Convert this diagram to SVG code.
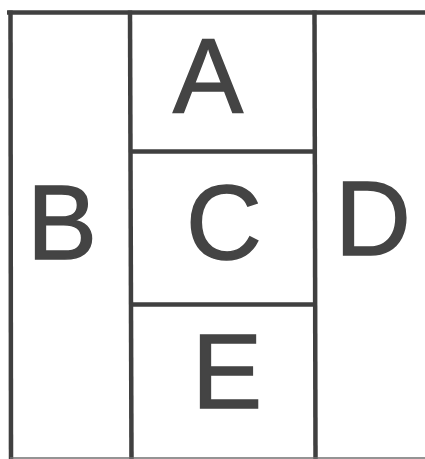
<svg xmlns="http://www.w3.org/2000/svg" width="425" height="459" viewBox="0 0 425 459">
<style>
.ln{stroke:#404040;stroke-width:4.5;fill:none;stroke-linecap:butt}
.lt{font-family:"Liberation Sans",Arial,sans-serif;font-size:105px;fill:#444444;stroke:#444444;stroke-width:1.5;text-anchor:middle}
</style>
<rect width="425" height="459" fill="#ffffff"/>
<g id="connectors">
<line class="ln" x1="7" y1="12.5" x2="425" y2="12.5"/>
<line class="ln" x1="10.5" y1="10.5" x2="11" y2="459"/>
<line class="ln" x1="130" y1="10.5" x2="131.5" y2="459"/>
<line class="ln" x1="314.5" y1="10.5" x2="315.5" y2="459"/>
<line class="ln" x1="130" y1="151.5" x2="314.5" y2="151.5"/>
<line class="ln" x1="131" y1="304.5" x2="316" y2="304.5"/>
<line x1="10" y1="458" x2="425" y2="458" stroke="#707070" stroke-width="1.5"/>
</g>
<g id="A"><text class="lt" x="208" y="111.5">A</text></g>
<g id="B"><text class="lt" x="62" y="258.5">B</text></g>
<g id="C"><text class="lt" x="224" y="258.5">C</text></g>
<g id="D"><text class="lt" x="373" y="254.5">D</text></g>
<g id="E"><text class="lt" x="227" y="407.5">E</text></g>
</svg>
